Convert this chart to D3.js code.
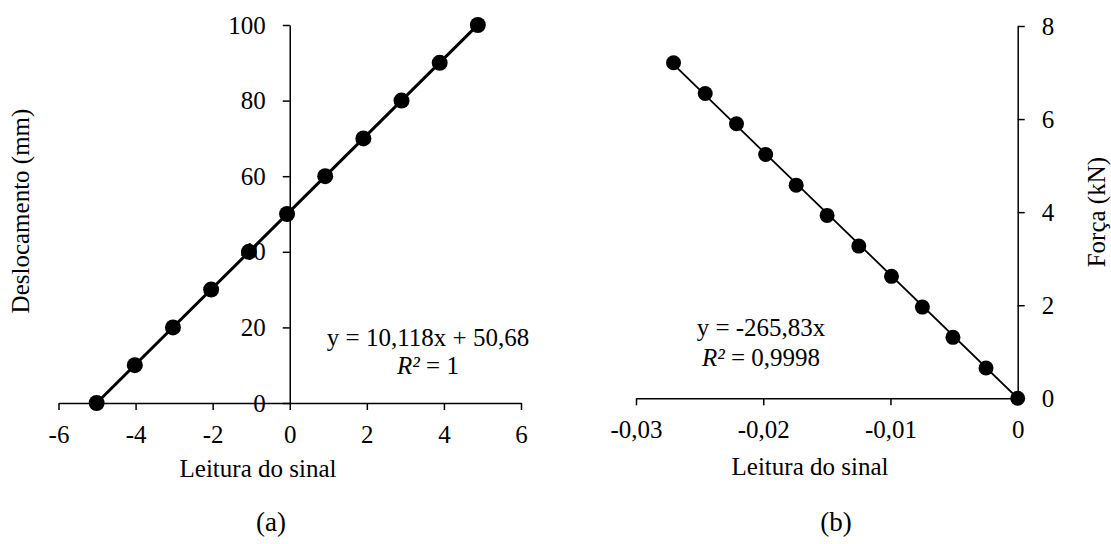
<!DOCTYPE html>
<html lang="pt">
<head>
    <meta charset="UTF-8">
    <title>Calibração</title>
    <script src="https://d3js.org/d3.v7.min.js"></script>
    <style>
        body { margin: 0; background: #fff; }
        svg text { font-family: "Times New Roman", "Liberation Serif", serif; font-size: 25px; fill: #000; }
        svg text.caption { font-size: 27px; }
        .axis path, .axis line { stroke: #000; stroke-width: 1.5px; }
        .axis text { font-family: "Times New Roman", "Liberation Serif", serif; font-size: 25px; }
    </style>
</head>
<body>
    <svg width="1111" height="544"></svg>
    <script>
        // (a) deslocamento x leitura
        const dispX = [-5.01, -4.02, -3.03, -2.04, -1.06, -0.07, 0.92, 1.91, 2.90, 3.89, 4.88];
        const dispY = [0, 10, 20, 30, 40, 50, 60, 70, 80, 90, 100];
        const dispXTicks = [-6, -4, -2, 0, 2, 4, 6];
        const dispYTicks = [0, 20, 40, 60, 80, 100];

        // (b) força x leitura
        const forceX = [-0.02705, -0.02456, -0.02210, -0.01981, -0.01741, -0.01498, -0.01249, -0.00992, -0.00749, -0.00509, -0.00249, 0];
        const forceY = [7.21, 6.55, 5.90, 5.24, 4.58, 3.93, 3.27, 2.62, 1.96, 1.31, 0.65, 0];
        const forceXTicks = [-0.03, -0.02, -0.01, 0];
        const forceYTicks = [0, 2, 4, 6, 8];

        const ptBR = d3.formatLocale({decimal: ",", thousands: ".", grouping: [3], currency: ["", ""], minus: "-"});
        const fmt = ptBR.format("");

        const svg = d3.select("svg");

        // ---------- chart (a) ----------
        const xa = d3.scaleLinear().domain([-6, 6]).range([58.5, 521]);
        const ya = d3.scaleLinear().domain([0, 100]).range([403, 25]);

        svg.append("g").attr("class", "axis")
            .attr("transform", `translate(0,${ya(0)})`)
            .call(d3.axisBottom(xa).tickValues(dispXTicks).tickFormat(fmt).tickSize(7).tickSizeOuter(0).tickPadding(15));

        svg.append("g").attr("class", "axis")
            .attr("transform", `translate(${xa(0)},0)`)
            .call(d3.axisLeft(ya).tickValues(dispYTicks).tickFormat(fmt).tickSize(7).tickSizeOuter(0).tickPadding(17));

        // linear fit
        const mxA = d3.mean(dispX), myA = d3.mean(dispY);
        const slopeA = d3.sum(dispX, (x, i) => (x - mxA) * (dispY[i] - myA)) / d3.sum(dispX, x => (x - mxA) ** 2);
        const interA = myA - slopeA * mxA;
        const extA = d3.extent(dispX);
        svg.append("line")
            .attr("x1", xa(extA[0])).attr("y1", ya(slopeA * extA[0] + interA))
            .attr("x2", xa(extA[1])).attr("y2", ya(slopeA * extA[1] + interA))
            .attr("stroke", "#000").attr("stroke-width", 3);

        svg.append("g").selectAll("circle")
            .data(dispX)
            .join("circle")
            .attr("cx", d => xa(d))
            .attr("cy", (d, i) => ya(dispY[i]))
            .attr("r", 8)
            .attr("fill", "#000");

        svg.append("text").attr("text-anchor", "middle")
            .attr("x", 428).attr("y", 346).text("y = 10,118x + 50,68");
        const r2a = svg.append("text").attr("text-anchor", "middle").attr("x", 428).attr("y", 374);
        r2a.append("tspan").attr("font-style", "italic").text("R²");
        r2a.append("tspan").text(" = 1");

        svg.append("text").attr("text-anchor", "middle")
            .attr("x", 258).attr("y", 477).text("Leitura do sinal");
        svg.append("text").attr("text-anchor", "middle")
            .attr("transform", `translate(29,${(ya(0) + ya(100)) / 2 - 3}) rotate(-90)`)
            .text("Deslocamento (mm)");
        svg.append("text").attr("class", "caption").attr("text-anchor", "middle")
            .attr("x", 271).attr("y", 531).text("(a)");

        // ---------- chart (b) ----------
        const xb = d3.scaleLinear().domain([-0.03, 0]).range([636, 1017.7]);
        const yb = d3.scaleLinear().domain([0, 8]).range([398.3, 26]);

        svg.append("g").attr("class", "axis")
            .attr("transform", `translate(0,${yb(0)})`)
            .call(d3.axisBottom(xb).tickValues(forceXTicks).tickFormat(fmt).tickSize(7).tickSizeOuter(0).tickPadding(15));

        svg.append("g").attr("class", "axis")
            .attr("transform", `translate(${xb(0)},0)`)
            .call(d3.axisRight(yb).tickValues(forceYTicks).tickFormat(fmt).tickSize(7).tickSizeOuter(0).tickPadding(17));

        // fit through origin
        const slopeB = d3.sum(forceX, (x, i) => x * forceY[i]) / d3.sum(forceX, x => x * x);
        const extB = d3.extent(forceX);
        svg.append("line")
            .attr("x1", xb(extB[0])).attr("y1", yb(slopeB * extB[0]))
            .attr("x2", xb(extB[1])).attr("y2", yb(slopeB * extB[1]))
            .attr("stroke", "#000").attr("stroke-width", 1.8);

        svg.append("g").selectAll("circle")
            .data(forceX)
            .join("circle")
            .attr("cx", d => xb(d))
            .attr("cy", (d, i) => yb(forceY[i]))
            .attr("r", 7.5)
            .attr("fill", "#000");

        svg.append("text").attr("text-anchor", "middle")
            .attr("x", 761).attr("y", 336).text("y = -265,83x");
        const r2b = svg.append("text").attr("text-anchor", "middle").attr("x", 761).attr("y", 366);
        r2b.append("tspan").attr("font-style", "italic").text("R²");
        r2b.append("tspan").text(" = 0,9998");

        svg.append("text").attr("text-anchor", "middle")
            .attr("x", 810).attr("y", 475).text("Leitura do sinal");
        svg.append("text").attr("text-anchor", "middle")
            .attr("transform", `translate(1105,${(yb(0) + yb(8)) / 2}) rotate(-90)`)
            .text("Força (kN)");
        svg.append("text").attr("class", "caption").attr("text-anchor", "middle")
            .attr("x", 836).attr("y", 531).text("(b)");
    </script>
</body>
</html>
